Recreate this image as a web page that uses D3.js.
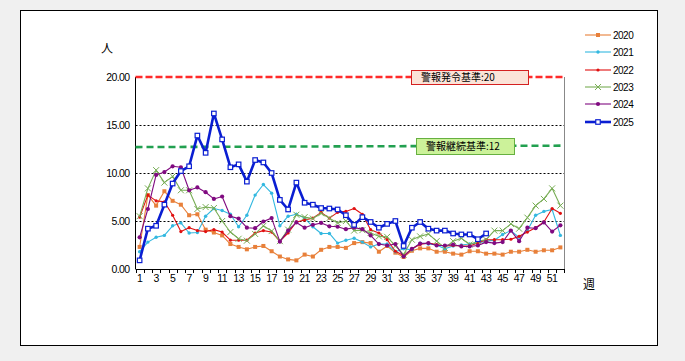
<!DOCTYPE html>
<html><head><meta charset="utf-8">
<script src="https://cdn.jsdelivr.net/npm/d3@7"></script>
<style>
html,body{margin:0;padding:0;background:#f0f0f0;}
svg{display:block;}
text{font-family:"Liberation Sans",Arial,sans-serif;}
</style></head>
<body><svg id="c" width="685" height="361"></svg>
<script>
const weeks = d3.range(1, 53);
const xTickLabels = d3.range(1, 53, 2);
const yTicks = [0, 5, 10, 15, 20];
const seriesNames = ["2020","2021","2022","2023","2024","2025"];
const s2020 = [2.3,7.7,6.6,8.1,7.1,6.7,5.6,5.7,4.1,3.8,3.5,2.6,2.3,2.05,2.3,2.4,1.85,1.3,1.0,0.9,1.5,1.3,2.0,2.3,2.3,2.2,2.7,2.8,2.7,1.8,2.4,1.7,1.25,1.9,2.15,2.15,1.8,1.8,1.6,1.5,1.85,1.85,1.6,1.6,1.5,1.8,1.8,2.0,1.8,1.95,1.95,2.25];
const s2021 = [1.8,2.8,3.3,3.5,4.5,4.8,3.75,3.8,5.5,6.3,6.1,5.7,4.4,5.6,7.7,8.8,7.9,4.5,5.5,5.7,5.3,4.4,3.7,3.7,2.7,3.0,3.2,2.8,2.3,2.6,2.6,1.8,2.1,2.0,2.7,2.6,2.5,2.1,2.4,2.5,2.6,2.7,2.9,3.0,3.6,4.0,3.3,4.0,5.6,6.0,6.2,3.5];
const s2022 = [5.4,7.7,7.1,7.0,5.6,3.9,4.3,4.0,3.9,4.1,3.85,3.0,3.0,3.0,3.75,4.0,3.85,2.9,3.75,4.9,5.1,5.3,5.9,5.3,5.9,6.0,6.3,5.7,4.1,3.75,3.05,1.85,1.4,2.1,2.55,2.7,2.55,2.4,2.45,2.4,2.4,2.7,3.05,3.05,3.05,3.1,3.4,3.85,4.3,4.9,6.3,5.8];
const s2023 = [5.5,8.4,10.3,9.0,9.65,8.2,8.2,6.25,6.45,6.35,5.0,3.85,3.15,2.95,3.65,4.5,3.95,2.9,4.1,5.65,5.4,5.25,5.8,5.3,4.8,5.0,4.0,4.05,3.75,3.4,3.35,2.4,1.5,3.05,3.4,3.65,2.9,2.2,2.9,3.2,2.55,2.9,3.05,4.0,4.0,4.7,4.2,5.35,6.6,7.3,8.4,6.6];
const s2024 = [3.3,6.25,9.8,10.1,10.7,10.6,8.2,8.5,8.0,7.3,7.55,5.5,5.25,4.3,4.25,4.95,5.3,2.85,4.0,4.85,4.3,4.6,4.8,4.45,4.4,4.15,4.3,4.15,3.5,2.6,2.45,2.6,1.3,2.1,2.65,2.7,2.45,2.45,2.55,2.35,2.35,2.45,2.8,2.7,2.8,4.0,2.9,4.3,4.25,4.85,3.9,4.55];
const s2025 = [0.9,4.2,4.5,6.7,8.9,10.2,10.7,13.9,12.1,16.2,13.5,10.6,10.9,9.1,11.35,11.1,10.0,7.2,6.2,9.0,6.9,6.7,6.35,6.3,6.2,5.6,4.6,5.4,4.9,4.3,4.7,5.0,2.4,4.3,4.9,4.2,4.0,4.0,3.7,3.6,3.6,3.1,3.7];
const alertLevel = 20, alertLabel = "警報発令基準:20";
const contLevelStart = 12.7, contLevelEnd = 12.85, contLabel = "警報継続基準:12";

const seriesData = [s2020,s2021,s2022,s2023,s2024,s2025];
const styles = [
  {color:"#e8803a", w:1.1, marker:"square", ms:4},
  {color:"#33b8e0", w:1.1, marker:"dot", ms:1.7},
  {color:"#e01010", w:1.1, marker:"dot", ms:1.6},
  {color:"#78ad55", w:1.1, marker:"x", ms:3},
  {color:"#800a80", w:1.1, marker:"dot", ms:2.1},
  {color:"#0a1ed2", w:2.6, marker:"hollow", ms:4.5}
];

const svg = d3.select("#c");
svg.append("rect").attr("x",20.5).attr("y",10.5).attr("width",637).attr("height",335)
  .attr("fill","#fff").attr("stroke","#000").attr("stroke-width",1);

const L = 135.5, R = 564.5, T = 77, B = 269;
const x = d3.scaleBand().domain(weeks).range([L, R]);
const y = d3.scaleLinear().domain([0, 20]).range([B, T]);
const cx = w => x(w) + x.bandwidth()/2;

// gridlines
svg.append("g").selectAll("line").data([5,10,15]).join("line")
  .attr("x1",L).attr("x2",R).attr("y1",d=>y(d)+0.5).attr("y2",d=>y(d)+0.5)
  .attr("stroke","#000").attr("stroke-width",1).attr("stroke-dasharray","2,2");

// y axis
const yAxis = d3.axisLeft(y).tickValues(yTicks).tickFormat(d3.format(".2f")).tickSize(0).tickPadding(6);
const gy = svg.append("g").attr("transform",`translate(${L},0)`).call(yAxis);
gy.select(".domain").remove();
gy.selectAll("text").attr("font-size",10.5).attr("fill","#000").attr("letter-spacing","-0.6");
svg.append("line").attr("x1",L).attr("x2",L).attr("y1",T).attr("y2",B).attr("stroke","#000");
svg.append("line").attr("x1",R).attr("x2",R).attr("y1",T).attr("y2",B).attr("stroke","#888");

// x axis
const xAxis = d3.axisBottom(x).tickValues(xTickLabels).tickSize(0).tickPadding(6);
const gx = svg.append("g").attr("transform",`translate(0,${B})`).call(xAxis);
gx.select(".domain").remove();
gx.selectAll("text").attr("font-size",10.5).attr("fill","#000").attr("letter-spacing","-0.5");
svg.append("g").selectAll("line").data(weeks.concat([53])).join("line")
  .attr("x1",d=> d<=52 ? Math.round(x(d))+0.5 : R).attr("x2",d=> d<=52 ? Math.round(x(d))+0.5 : R)
  .attr("y1",B).attr("y2",B+4).attr("stroke","#000");
svg.append("line").attr("x1",L).attr("x2",R).attr("y1",B+0.5).attr("y2",B+0.5).attr("stroke","#000");

// axis unit labels
svg.append("text").attr("x",107).attr("y",53).attr("font-size",12).attr("text-anchor","middle")
  .style("font-family","'Noto Sans CJK JP'").text("人");
svg.append("text").attr("x",589).attr("y",289).attr("font-size",12).attr("text-anchor","middle")
  .style("font-family","'Noto Sans CJK JP'").text("週");

// threshold lines
svg.append("line").attr("x1",L).attr("x2",R).attr("y1",y(alertLevel)).attr("y2",y(alertLevel))
  .attr("stroke","#ff2a2a").attr("stroke-width",2.6).attr("stroke-dasharray","7,3");
svg.append("line").attr("x1",L).attr("x2",R).attr("y1",y(contLevelStart)).attr("y2",y(contLevelEnd))
  .attr("stroke","#22a050").attr("stroke-width",2.6).attr("stroke-dasharray","7,4");

// series
const line = d3.line().x((d,i)=>cx(i+1)).y(d=>y(d));
seriesData.forEach((data,k)=>{
  const st = styles[k];
  const g = svg.append("g");
  g.append("path").datum(data).attr("d",line).attr("fill","none")
    .attr("stroke",st.color).attr("stroke-width",st.w).attr("stroke-linejoin","round");
  drawMarkers(g, data.map((v,i)=>[cx(i+1), y(v)]), st);
});

function drawMarkers(g, pts, st){
  const s = st.ms;
  if(st.marker==="square"){
    g.selectAll("rect").data(pts).join("rect").attr("x",p=>p[0]-s/2).attr("y",p=>p[1]-s/2)
      .attr("width",s).attr("height",s).attr("fill",st.color);
  } else if(st.marker==="dot"){
    g.selectAll("circle").data(pts).join("circle").attr("cx",p=>p[0]).attr("cy",p=>p[1]).attr("r",s).attr("fill",st.color);
  } else if(st.marker==="x"){
    g.selectAll("path.m").data(pts).join("path").attr("class","m")
      .attr("d",p=>`M${p[0]-s},${p[1]-s}L${p[0]+s},${p[1]+s}M${p[0]-s},${p[1]+s}L${p[0]+s},${p[1]-s}`)
      .attr("stroke",st.color).attr("stroke-width",1);
  } else if(st.marker==="hollow"){
    g.selectAll("rect").data(pts).join("rect").attr("x",p=>p[0]-s/2).attr("y",p=>p[1]-s/2)
      .attr("width",s).attr("height",s).attr("fill","#fff").attr("stroke",st.color).attr("stroke-width",1.2);
  }
}

// threshold label boxes
function labelBox(x0, y0, w, h, fill, stroke, txt){
  svg.append("rect").attr("x",x0+0.5).attr("y",y0+0.5).attr("width",w).attr("height",h)
    .attr("fill",fill).attr("stroke",stroke).attr("stroke-width",1);
  svg.append("text").attr("x",x0+10).attr("y",y0+h/2+4).attr("font-size",10)
    .style("font-family","'Noto Sans CJK JP'").attr("fill","#000").text(txt);
}
labelBox(411, 70, 117, 14, "#fbe3d8", "#d42020", alertLabel);
labelBox(416, 138, 98, 16, "#ccf29a", "#66b040", contLabel);

// legend
const lg = svg.append("g");
const legY = [35, 52, 70, 87, 104, 122];
seriesNames.forEach((n,k)=>{
  const st = styles[k];
  const gy0 = legY[k];
  const g = lg.append("g");
  g.append("line").attr("x1",585).attr("x2",611).attr("y1",gy0).attr("y2",gy0)
    .attr("stroke",st.color).attr("stroke-width",st.w);
  drawMarkers(g, [[598, gy0]], st);
  g.append("text").attr("x",613).attr("y",gy0+3.5).attr("font-size",10).attr("letter-spacing","-0.5").text(n);
});
</script></body></html>
